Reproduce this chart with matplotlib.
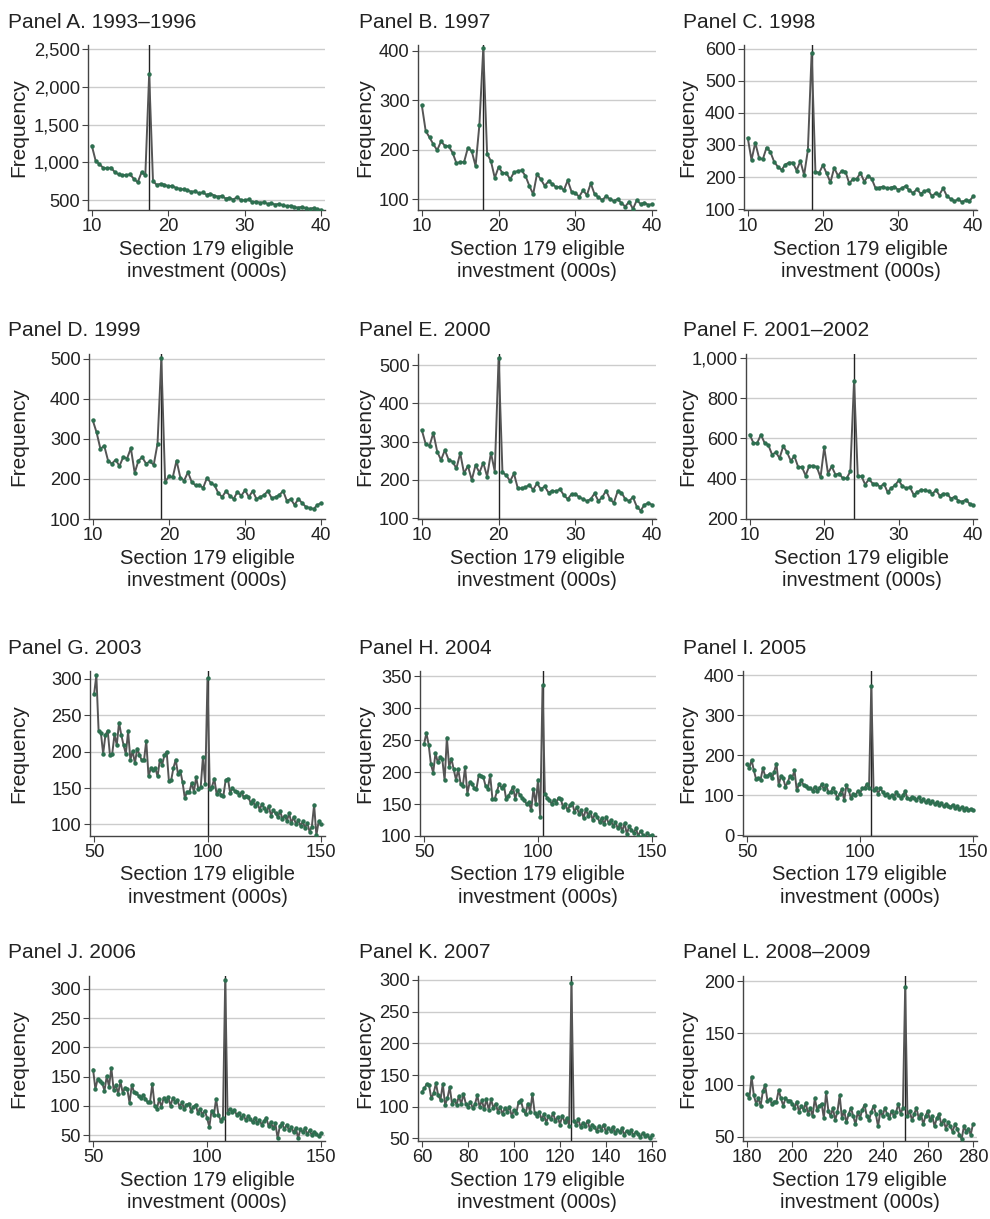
import numpy as np
import matplotlib.pyplot as plt
from matplotlib.ticker import StrMethodFormatter

plt.rcParams['font.family'] = ['Liberation Sans', 'DejaVu Sans']

# bins: $500 wide for 1993-2002, $1,000 wide afterwards (in 000s)
x_small = np.arange(20, 81) / 2.0
x_50_150 = np.arange(50, 151)
x_60_160 = np.arange(60, 161)
x_180_280 = np.arange(180, 281)

titles = ['Panel A. 1993–1996', 'Panel B. 1997', 'Panel C. 1998',
          'Panel D. 1999', 'Panel E. 2000', 'Panel F. 2001–2002',
          'Panel G. 2003', 'Panel H. 2004', 'Panel I. 2005',
          'Panel J. 2006', 'Panel K. 2007', 'Panel L. 2008–2009']
thresholds = [17.5, 18, 18.5, 19, 20, 24, 100, 102, 105, 108, 125, 250]

a_freq = [1220, 1020, 975, 925, 920, 930, 870, 840, 830, 830,
          840, 780, 735, 865, 830, 2165, 750, 700, 715, 705,
          680, 690, 660, 650, 640, 630, 610, 615, 590, 600,
          570, 585, 560, 545, 555, 520, 530, 505, 540, 500,
          495, 510, 470, 480, 465, 470, 450, 455, 440, 450,
          430, 420, 425, 405, 400, 410, 390, 385, 395, 375, 370]
b_freq = [290, 238, 225, 211, 199, 217, 208, 207, 194, 173,
          175, 175, 204, 197, 167, 251, 405, 192, 177, 143,
          165, 153, 153, 140, 154, 157, 158, 147, 127, 110,
          151, 140, 127, 136, 131, 124, 125, 118, 138, 115,
          112, 105, 118, 108, 132, 110, 104, 98, 106, 100,
          96, 100, 92, 85, 95, 80, 98, 90, 93, 88, 90]
c_freq = [322, 253, 307, 260, 255, 292, 279, 248, 232, 222,
          239, 245, 245, 220, 250, 206, 284, 588, 217, 213,
          237, 211, 183, 229, 204, 219, 217, 180, 194, 194,
          213, 185, 204, 194, 165, 167, 170, 165, 167, 170,
          160, 165, 172, 158, 150, 162, 148, 155, 160, 140,
          150, 145, 165, 140, 132, 125, 130, 122, 128, 125, 140]
d_freq = [346, 316, 275, 283, 246, 238, 248, 232, 255, 251,
          277, 215, 246, 254, 238, 244, 235, 288, 501, 192,
          207, 204, 246, 203, 196, 217, 192, 184, 184, 178,
          203, 190, 184, 164, 155, 170, 158, 150, 168, 158,
          172, 155, 170, 150, 155, 160, 170, 152, 155, 160,
          170, 145, 150, 135, 150, 140, 130, 128, 125, 135, 140]
e_freq = [330, 294, 289, 323, 274, 252, 278, 252, 248, 230,
          270, 217, 237, 200, 239, 219, 245, 209, 271, 222,
          519, 220, 212, 197, 217, 178, 178, 181, 187, 174,
          191, 176, 183, 167, 172, 170, 176, 160, 150, 163,
          163, 155, 150, 145, 150, 165, 145, 155, 172, 150,
          140, 170, 167, 150, 145, 155, 130, 120, 135, 140, 135]
f_freq = [619, 577, 577, 619, 577, 567, 519, 531, 502, 561,
          532, 489, 511, 458, 458, 415, 464, 464, 458, 406,
          556, 425, 461, 420, 425, 401, 401, 436, 887, 411,
          411, 370, 398, 375, 375, 358, 375, 333, 353, 367,
          391, 361, 353, 357, 320, 332, 345, 342, 337, 325,
          342, 315, 325, 325, 300, 310, 290, 285, 295, 275, 268]
g_freq = [279, 305, 228, 226, 197, 223, 229, 195, 197, 224,
          209, 240, 223, 209, 197, 228, 189, 201, 184, 204,
          196, 188, 188, 215, 166, 177, 175, 177, 166, 189,
          182, 195, 200, 159, 161, 178, 189, 169, 174, 158,
          136, 145, 144, 157, 145, 165, 148, 151, 193, 155,
          301, 148, 152, 163, 142, 147, 140, 139, 161, 163,
          143, 150, 146, 145, 141, 144, 137, 139, 137, 130,
          133, 125, 130, 120, 128, 122, 118, 125, 112, 120,
          115, 110, 118, 108, 112, 105, 115, 102, 110, 100,
          106, 98, 104, 95, 102, 90, 97, 127, 85, 104, 100]
h_freq = [244, 261, 243, 212, 199, 230, 215, 223, 220, 187,
          254, 208, 221, 204, 188, 204, 182, 178, 208, 166,
          184, 182, 175, 174, 195, 194, 192, 178, 174, 195,
          158, 158, 170, 182, 175, 180, 158, 163, 169, 177,
          158, 172, 164, 160, 156, 150, 153, 140, 174, 150,
          188, 130, 336, 166, 160, 157, 150, 157, 152, 160,
          158, 145, 150, 140, 148, 152, 138, 145, 135, 140,
          128, 142, 132, 138, 125, 135, 130, 122, 128, 118,
          130, 120, 125, 115, 122, 112, 118, 108, 120, 103,
          115, 110, 105, 112, 100, 108, 102, 97, 105, 100, 101]
i_freq = [177, 168, 188, 162, 140, 143, 139, 167, 148, 148,
          154, 142, 158, 179, 125, 148, 142, 121, 132, 148,
          143, 162, 112, 127, 137, 125, 123, 117, 118, 111,
          121, 111, 117, 127, 115, 125, 108, 108, 118, 108,
          92, 104, 115, 87, 125, 112, 92, 104, 100, 110,
          104, 117, 118, 127, 117, 373, 112, 117, 104, 117,
          108, 100, 104, 96, 100, 92, 108, 100, 93, 100,
          110, 92, 90, 96, 92, 88, 95, 85, 90, 82,
          88, 80, 85, 78, 82, 75, 80, 72, 78, 74,
          70, 76, 68, 72, 66, 70, 64, 68, 62, 66, 63]
j_freq = [162, 129, 146, 142, 139, 126, 151, 133, 165, 128,
          135, 121, 142, 122, 131, 129, 105, 136, 123, 122,
          117, 113, 119, 112, 106, 107, 138, 100, 95, 112,
          98, 114, 108, 115, 100, 114, 106, 110, 98, 106,
          95, 102, 104, 92, 98, 102, 88, 95, 85, 92,
          80, 64, 92, 84, 112, 85, 75, 80, 316, 88,
          95, 90, 93, 85, 88, 80, 84, 76, 82, 78,
          72, 80, 70, 76, 68, 74, 80, 66, 72, 62,
          70, 45, 66, 70, 60, 68, 58, 64, 55, 62,
          45, 60, 55, 62, 52, 58, 50, 56, 52, 48, 53]
k_freq = [124, 129, 136, 134, 113, 121, 137, 118, 111, 136,
          103, 113, 131, 105, 111, 103, 117, 104, 120, 105,
          100, 108, 98, 104, 118, 100, 110, 96, 112, 95,
          112, 98, 105, 92, 100, 88, 98, 92, 100, 85,
          95, 90, 108, 110, 95, 88, 105, 92, 120, 90,
          85, 92, 80, 88, 75, 85, 80, 90, 78, 84,
          72, 86, 76, 82, 70, 295, 78, 72, 80, 68,
          75, 70, 78, 65, 72, 68, 62, 70, 64, 72,
          60, 66, 62, 68, 58, 64, 60, 66, 56, 62,
          58, 63, 55, 60, 57, 52, 58, 54, 56, 50, 55]
l_freq = [91, 87, 108, 90, 82, 87, 80, 94, 100, 85,
          86, 82, 84, 84, 95, 87, 80, 87, 85, 85,
          82, 78, 84, 74, 80, 76, 83, 72, 78, 70,
          87, 76, 80, 82, 68, 93, 75, 70, 78, 66,
          74, 90, 68, 75, 64, 72, 78, 70, 62, 74,
          68, 76, 81, 70, 66, 74, 80, 72, 60, 75,
          70, 78, 72, 68, 75, 70, 74, 82, 72, 78,
          194, 70, 75, 66, 72, 78, 68, 72, 62, 70,
          75, 66, 70, 60, 68, 72, 62, 66, 58, 64,
          60, 55, 62, 58, 52, 48, 60, 55, 58, 52, 62]

xs = [x_small] * 6 + [x_50_150] * 4 + [x_60_160, x_180_280]
freqs = [a_freq, b_freq, c_freq, d_freq, e_freq, f_freq,
         g_freq, h_freq, i_freq, j_freq, k_freq, l_freq]

yticks = [range(500, 2501, 500), range(100, 401, 100), range(100, 601, 100),
          range(100, 501, 100), range(100, 501, 100), range(200, 1001, 200),
          range(100, 301, 50), range(100, 351, 50), range(0, 401, 100),
          range(50, 301, 50), range(50, 301, 50), range(50, 201, 50)]
xticks = [[10, 20, 30, 40]] * 6 + [[50, 100, 150]] * 4 + \
         [range(60, 161, 20), range(180, 281, 20)]
ylims = [(368, 2553), (78, 412), (97, 612), (100, 512), (98, 529), (199, 1020),
         (84, 311), (100, 358), (-2, 410), (40, 322), (46, 306), (46, 205)]
xlims = [(9.5, 40.5)] * 6 + [(48.2, 151.8)] * 4 + [(58.2, 161.8), (178.2, 281.8)]

# layout in pixels
W, H = 990, 1219
row_top = [45, 354, 671, 976]
col_right = [325, 656, 977]
lefts = [88, 418, 744, 89, 418, 746, 90, 420, 743, 89, 418, 743]
title_x = [8, 359, 683]
ylab_x = [19, 365, 688]
ph = 165

fig = plt.figure(figsize=(W / 100, H / 100), dpi=100)

for i in range(12):
    r, c = divmod(i, 3)
    left, right, top = lefts[i], col_right[c], row_top[r]
    ax = fig.add_axes([left / W, 1 - (top + ph) / H, (right - left) / W, ph / H])

    ax.axvline(thresholds[i], color='#222222', lw=1.0, zorder=2)
    ax.plot(xs[i], freqs[i], color='#555555', lw=1.4, marker='o', ms=2.2,
            mfc='#2d7050', mec='#2d7050', zorder=3)

    ax.set_xlim(xlims[i])
    ax.set_ylim(ylims[i])
    ax.set_yticks(list(yticks[i]))
    ax.set_xticks(list(xticks[i]))
    ax.yaxis.set_major_formatter(StrMethodFormatter('{x:,.0f}'))
    ax.grid(axis='y', color='#cccccc', lw=1.0)
    ax.set_axisbelow(True)
    for s in ['top', 'right']:
        ax.spines[s].set_visible(False)
    for s in ['left', 'bottom']:
        ax.spines[s].set_color('#444444')
        ax.spines[s].set_linewidth(1.0)
    ax.tick_params(labelsize=13.2, length=4, color='#444444', pad=2,
                   labelcolor='#222222')
    ax.set_xlabel('Section 179 eligible\ninvestment (000s)', fontsize=14.5,
                  labelpad=3, linespacing=1.25, color='#222222')

    fig.text(title_x[c] / W, 1 - (top - 23) / H, titles[i], fontsize=15,
             ha='left', va='center', color='#222222')
    fig.text(ylab_x[c] / W, 1 - (top + ph / 2) / H, 'Frequency', fontsize=15,
             rotation=90, ha='center', va='center', color='#222222')

fig.savefig('out.png', dpi=100)
